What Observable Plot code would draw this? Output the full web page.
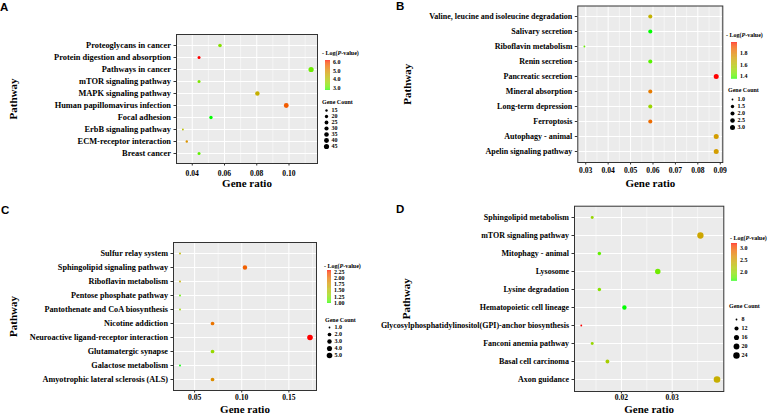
<!DOCTYPE html>
<html><head><meta charset="utf-8">
<script src="https://cdn.jsdelivr.net/npm/d3@7"></script>
<script src="https://cdn.jsdelivr.net/npm/@observablehq/plot@0.6"></script>
<style>
body{margin:0;background:#fff;}
#root{position:relative;width:768px;height:413px;overflow:hidden;background:#fff;font-family:"Liberation Serif",serif;color:#000;}
#root .abs{position:absolute;white-space:nowrap;}
#root svg{position:absolute;}
.letter{font-family:"Liberation Sans",Arial,sans-serif;font-weight:bold;}
.ltitle{font-family:"Liberation Serif",serif;font-weight:bold;}
#root g[aria-label="x-axis label"], #root g[aria-label="y-axis label"]{font-size:11px;}
</style></head><body><div id="root"></div>
<script>
// ---------- DATA ----------
// Panel A
const pathwaysA = ["Proteoglycans in cancer","Protein digestion and absorption","Pathways in cancer","mTOR signaling pathway","MAPK signaling pathway","Human papillomavirus infection","Focal adhesion","ErbB signaling pathway","ECM-receptor interaction","Breast cancer"];
const ratioA = [0.0572,0.0442,0.1137,0.0442,0.0804,0.0983,0.0516,0.0342,0.0366,0.0442];
const countA = [23,18,46,18,33,40,21,14,15,18];
const logPA  = [3.35,6.24,3.1,3.25,4.4,5.7,2.68,4.1,4.9,3.0];
const xTicksA = [0.04,0.06,0.08,0.10];
const colorTicksA = [3,4,5,6];
const sizeBreaksA = [15,20,25,30,35,40,45];

// Panel B
const pathwaysB = ["Valine, leucine and isoleucine degradation","Salivary secretion","Riboflavin metabolism","Renin secretion","Pancreatic secretion","Mineral absorption","Long-term depression","Ferroptosis","Autophagy - animal","Apelin signaling pathway"];
const ratioB = [0.0588,0.0588,0.0294,0.0588,0.0882,0.0588,0.0588,0.0588,0.0882,0.0882];
const countB = [2,2,1,2,3,2,2,2,3,3];
const logPB  = [1.65,1.355,1.42,1.40,1.99,1.82,1.52,1.86,1.72,1.72];
const xTicksB = [0.03,0.04,0.05,0.06,0.07,0.08,0.09];
const colorTicksB = [1.4,1.6,1.8];
const sizeBreaksB = [1.0,1.5,2.0,2.5,3.0];

// Panel C
const pathwaysC = ["Sulfur relay system","Sphingolipid signaling pathway","Riboflavin metabolism","Pentose phosphate pathway","Pantothenate and CoA biosynthesis","Nicotine addiction","Neuroactive ligand-receptor interaction","Glutamatergic synapse","Galactose metabolism","Amyotrophic lateral sclerosis (ALS)"];
const ratioC = [0.0345,0.1034,0.0345,0.0345,0.0345,0.0690,0.1724,0.0690,0.0345,0.0690];
const countC = [1,3,1,1,1,2,5,2,1,2];
const logPC  = [1.55,2.10,1.62,1.10,1.35,2.00,2.32,1.30,0.97,1.85];
const xTicksC = [0.05,0.10,0.15];
const colorTicksC = [1.00,1.25,1.50,1.75,2.00,2.25];
const sizeBreaksC = [1.0,2.0,3.0,4.0,5.0];

// Panel D
const pathwaysD = ["Sphingolipid metabolism","mTOR signaling pathway","Mitophagy - animal","Lysosome","Lysine degradation","Hematopoietic cell lineage","Glycosylphosphatidylinositol(GPI)-anchor biosynthesis","Fanconi anemia pathway","Basal cell carcinoma","Axon guidance"];
const ratioD = [0.01425,0.03555,0.01566,0.02716,0.01566,0.02059,0.0121,0.01425,0.01725,0.03882];
const countD = [9,23,10,18,10,13,8,9,11,25];
const logPD  = [2.0,2.45,1.75,1.8,1.9,1.60,3.21,2.0,2.1,2.38];
const xTicksD = [0.02,0.03];
const colorTicksD = [2.0,2.5,3.0];
const sizeBreaksD = [8,12,16,20,24];

// ---------- LAYOUT ----------
const panels = [
  {letter:"A", pathways:pathwaysA, ratio:ratioA, count:countA, logP:logPA, xTicks:xTicksA, colorTicks:colorTicksA, colorFmt:".1f", sizeBreaks:sizeBreaksA, sizeFmt:"d", rRange:[0.9,2.6],
   L:{left:0, top:0, w:384, h:200, mL:176, mR:67, mT:34, mB:37, xPad:4.4, xLab:23.6, yLab:167, yFont:8.4},
   G:{title:[322,53], bar:[325,330,60,90], gc:[322,102], size:[326,108.3,147.7]},
   letterPos:[0,11.7]},
  {letter:"B", pathways:pathwaysB, ratio:ratioB, count:countB, logP:logPB, xTicks:xTicksB, colorTicks:colorTicksB, colorFmt:".1f", sizeBreaks:sizeBreaksB, sizeFmt:".1f", rRange:[0.9,2.5],
   L:{left:384, top:0, w:384, h:200, mL:193.3, mR:45.7, mT:5.5, mB:38, xPad:2.9, xLab:24.6, yLab:174.8, yFont:8},
   G:{title:[726,35], bar:[731,737,41.7,78.3], gc:[728,90], size:[732.3,98.3,127.3]},
   letterPos:[396,10.5]},
  {letter:"C", pathways:pathwaysC, ratio:ratioC, count:countC, logP:logPC, xTicks:xTicksC, colorTicks:colorTicksC, colorFmt:".2f", sizeBreaks:sizeBreaksC, sizeFmt:".1f", rRange:[0.9,2.8],
   L:{left:0, top:205, w:384, h:208, mL:173, mR:68, mT:37, mB:23, xPad:1.6, xLab:22, yLab:164, yFont:8.2},
   G:{title:[324,266], bar:[327,331,270,303], gc:[325,320], size:[329,327,355]},
   letterPos:[1,215]},
  {letter:"D", pathways:pathwaysD, ratio:ratioD, count:countD, logP:logPD, xTicks:xTicksD, colorTicks:colorTicksD, colorFmt:".1f", sizeBreaks:sizeBreaksD, sizeFmt:"d", rRange:[0.9,3.3],
   L:{left:384, top:205, w:384, h:208, mL:190, mR:44.7, mT:0.7, mB:22, xPad:0.8, xLab:21, yLab:172, yFont:8},
   G:{title:[730,238.3], bar:[731,737,243.3,281], gc:[729,305.7], size:[735.7,317.7,355.7]},
   letterPos:[396,214]}
];

const root = document.getElementById("root");
const baseStyle = {background:"transparent", overflow:"visible", fontFamily:"'Liberation Serif', serif", color:"#000"};

function place(el, left, top) {
  el.style.left = left + "px"; el.style.top = top + "px";
  root.appendChild(el);
}
function addText(html, left, cy, size, cls) {
  const d = document.createElement("div");
  d.className = "abs " + cls;
  d.innerHTML = html;
  d.style.fontSize = size + "px";
  d.style.lineHeight = size + "px";
  place(d, left, cy - size / 2);
}

for (const p of panels) {
  const rows = p.pathways.map((pathway, i) => ({pathway, ratio: p.ratio[i], count: p.count[i], logP: p.logP[i]}));
  const [cMin, cMax] = d3.extent(p.count);
  // ggplot-style area scaling: size grows with sqrt of the rescaled count (offset by 1 so the minimum stays positive)
  const rt = v => 1 + Math.sqrt(Math.max(0, (v - cMin) / (cMax - cMin)));
  const colorDomain = d3.extent(p.logP);
  const colorScale = {type: "linear", domain: colorDomain, range: ["#00ff00", "#ff0000"], interpolate: "lab"};
  const rScale = {type: "linear", domain: [1, 2], range: p.rRange};
  const [x0, x1] = d3.extent(p.ratio);
  const pad = (x1 - x0) * 0.05;
  const xDomain = [x0 - pad, x1 + pad];
  const step = p.xTicks[1] - p.xTicks[0];
  const minor = [p.xTicks[0] - step / 2, ...p.xTicks.map(t => t + step / 2)].filter(v => v > xDomain[0] && v < xDomain[1]);
  const L = p.L;

  const chart = Plot.plot({
    width: L.w, height: L.h,
    marginLeft: L.mL, marginRight: L.mR, marginTop: L.mT, marginBottom: L.mB,
    style: baseStyle,
    x: {domain: xDomain},
    y: {type: "point", domain: p.pathways, padding: 0.6},
    color: colorScale,
    r: rScale,
    marks: [
      Plot.frame({fill: "#ebebeb"}),
      Plot.ruleX(minor, {x: d => d, stroke: "#fff", strokeWidth: 0.5}),
      Plot.ruleX(p.xTicks, {x: d => d, stroke: "#fff", strokeWidth: 1}),
      Plot.ruleY(p.pathways, {y: d => d, stroke: "#fff", strokeWidth: 1}),
      Plot.dot(rows, {x: "ratio", y: "pathway", r: d => rt(d.count), fill: "logP"}),
      Plot.frame({stroke: "#333", strokeWidth: 1}),
      Plot.axisX({ticks: p.xTicks, tickFormat: d3.format(".2f"), tickSize: 2.5, tickPadding: L.xPad, fontSize: 7.6, fontWeight: "bold", stroke: "#333",
        label: "Gene ratio", labelAnchor: "center", labelOffset: L.xLab, labelArrow: "none"}),
      Plot.axisY({tickSize: 2.5, tickPadding: 3, fontSize: L.yFont, fontWeight: "bold", stroke: "#333",
        label: "Pathway", labelAnchor: "center", labelOffset: L.yLab, labelArrow: "none"})
    ]
  });
  place(chart, L.left, L.top);

  // panel letter
  const lt = document.createElement("div");
  lt.className = "abs letter"; lt.textContent = p.letter;
  lt.style.fontSize = "11.5px"; lt.style.lineHeight = "11.5px";
  place(lt, p.letterPos[0], p.letterPos[1] - 0.8465 * 11.5);

  // legend: colour bar
  const G = p.G;
  addText("- Log(<i>P</i>-value)", G.title[0], G.title[1], 6, "ltitle");
  const [lo, hi] = colorDomain;
  const nCells = 60;
  const cells = d3.range(nCells).map(i => ({a: lo + (hi - lo) * i / nCells, b: lo + (hi - lo) * (i + 1) / nCells}));
  const [bx0, bx1, by0, by1] = G.bar;
  const ramp = Plot.plot({
    width: (bx1 - bx0) + 20, height: (by1 - by0) + 8,
    marginLeft: 0, marginRight: 20, marginTop: 4, marginBottom: 4,
    style: baseStyle,
    y: {domain: colorDomain},
    color: colorScale,
    marks: [
      Plot.rect(cells, {y1: "a", y2: "b", fill: d => (d.a + d.b) / 2}),
      Plot.axisY(p.colorTicks, {anchor: "right", tickSize: 0, tickPadding: 2.5, fontSize: 6, fontWeight: "bold", tickFormat: d3.format(p.colorFmt), label: null})
    ]
  });
  place(ramp, bx0, by0 - 4);

  // legend: gene count
  addText("Gene Count", G.gc[0], G.gc[1], 6, "ltitle");
  const [sx, sy0, sy1] = G.size;
  const sizeLegend = Plot.plot({
    width: 6 + 22, height: (sy1 - sy0) + 8,
    marginLeft: 0, marginRight: 22, marginTop: 4, marginBottom: 4,
    style: baseStyle,
    y: {type: "point", domain: p.sizeBreaks, padding: 0},
    r: rScale,
    marks: [
      Plot.dot(p.sizeBreaks, {y: d => d, r: d => rt(d), fill: "#000"}),
      Plot.axisY({anchor: "right", tickSize: 0, tickPadding: 2, fontSize: 6, fontWeight: "bold", tickFormat: d3.format(p.sizeFmt), label: null})
    ]
  });
  place(sizeLegend, sx - 3, sy0 - 4);
}
</script></body></html>
